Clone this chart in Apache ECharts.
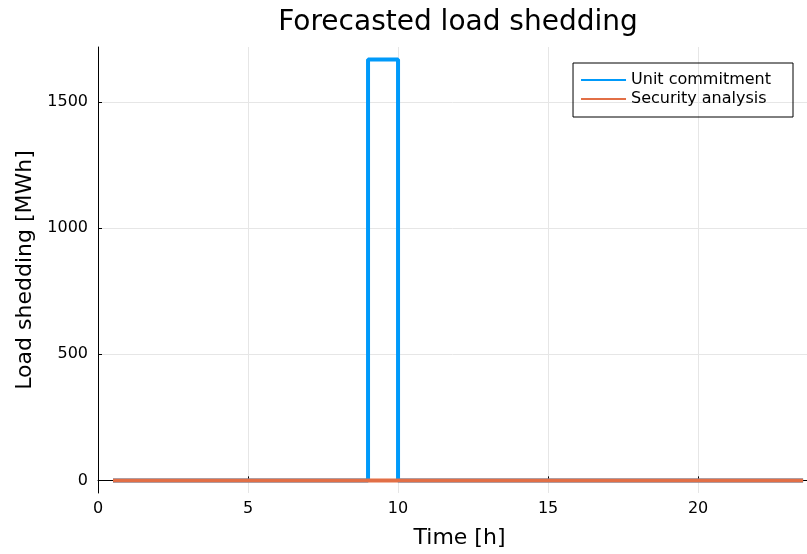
<!DOCTYPE html>
<html><head><meta charset="utf-8">
<script src="https://cdn.jsdelivr.net/npm/echarts@6/dist/echarts.min.js"></script>
<style>html,body{margin:0;padding:0;background:#fff}#c{width:807px;height:554px}</style>
</head><body><div id="c"></div>
<script>
const hours = [0.5,1,2,3,4,5,6,7,8,9,10,11,12,13,14,15,16,17,18,19,20,21,22,23,23.5];
const unitCommitment = [0,0,0,0,0,0,0,0,0,1667,0,0,0,0,0,0,0,0,0,0,0,0,0,0,0];
const securityAnalysis = [0,0,0,0,0,0,0,0,0,0,0,0,0,0,0,0,0,0,0,0,0,0,0,0,0];
const xTicks = [0,5,10,15,20];
const yTicks = [0,500,1000,1500];
const FONT = 'DejaVu Sans';
const chart = echarts.init(document.getElementById('c'));
const pair = (ys) => hours.map((h,i)=>[h, ys[i]]);
chart.setOption({
  animation:false,
  textStyle:{fontFamily:FONT},
  title:{text:'Forecasted load shedding', left:453, top:4, textAlign:'center',
    textStyle:{fontFamily:FONT,fontSize:28,fontWeight:'normal',color:'#000'}},
  grid:{left:98,right:0,top:47,bottom:60},
  legend:{right:14,top:63,orient:'vertical',borderColor:'#000',borderWidth:1,
    padding:[9,22,10,8],itemGap:3,itemWidth:45,itemHeight:2,icon:'rect',
    textStyle:{fontFamily:FONT,fontSize:16,color:'#000'},
    data:['Unit commitment','Security analysis']},
  xAxis:{type:'value',min:0,max:23.63,name:'Time [h]',nameLocation:'middle',nameGap:34,
    nameTextStyle:{fontFamily:FONT,fontSize:22,color:'#000',padding:[0,0,0,14]},
    axisLine:{lineStyle:{color:'#000',width:1}},
    axisTick:{inside:true,length:4,lineStyle:{color:'#000'},customValues:xTicks},
    axisLabel:{customValues:xTicks,fontFamily:FONT,fontSize:16,color:'#000',margin:8,
      formatter:v=>String(v)},
    splitLine:{show:true,lineStyle:{color:'#e6e6e6',width:1}}},
  yAxis:{type:'value',min:-50,max:1717,name:'Load shedding [MWh]',nameLocation:'middle',nameGap:51,
    nameTextStyle:{fontFamily:FONT,fontSize:22,color:'#000'},
    axisLine:{show:true,lineStyle:{color:'#000',width:1}},
    axisTick:{show:true,inside:true,length:4,lineStyle:{color:'#000'},customValues:yTicks},
    axisLabel:{customValues:yTicks,fontFamily:FONT,fontSize:16,color:'#000',margin:10,
      formatter:v=>String(v)},
    splitLine:{show:true,lineStyle:{color:'#e6e6e6',width:1}}},
  series:[
    {name:'Unit commitment',type:'line',step:'end',data:pair(unitCommitment),showSymbol:false,
      lineStyle:{color:'#009afa',width:4},itemStyle:{color:'#009afa'},z:2},
    {name:'Security analysis',type:'line',step:'end',data:pair(securityAnalysis),showSymbol:false,
      lineStyle:{color:'#e26f46',width:4},itemStyle:{color:'#e26f46'},z:3}
  ]
});
</script></body></html>
